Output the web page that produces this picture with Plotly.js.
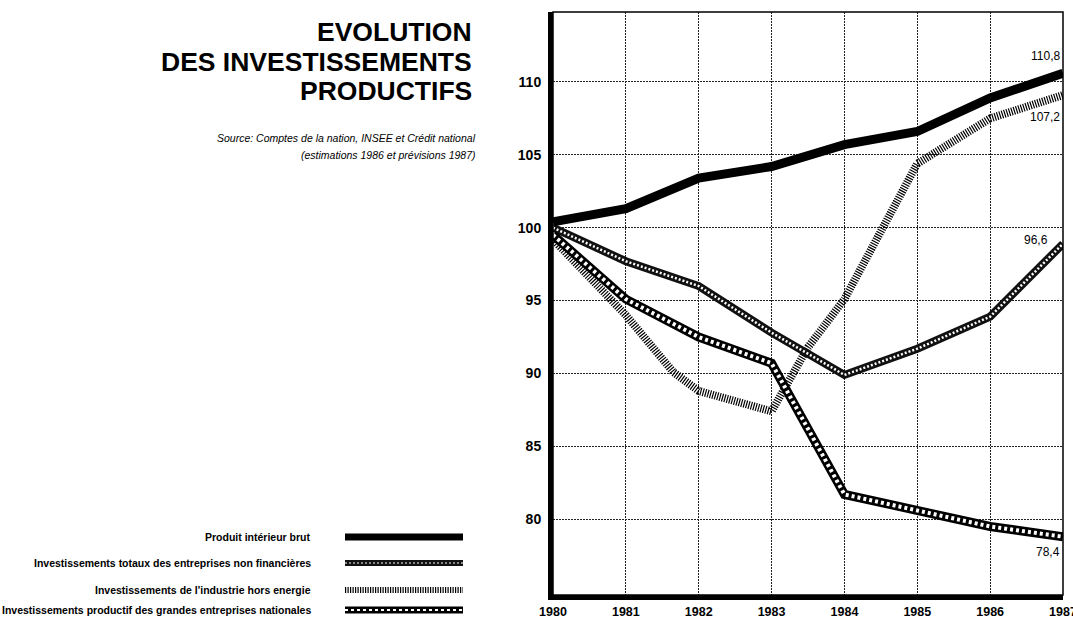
<!DOCTYPE html>
<html>
<head>
<meta charset="utf-8">
<script src="https://cdn.plot.ly/plotly-3.0.1.min.js"></script>
<style>
  html, body { margin: 0; padding: 0; background: #fff; }
  #chart { width: 1073px; height: 621px; }
</style>
</head>
<body>
<div id="chart"></div>
<script>
// ---- Data ----
const years = [1980, 1981, 1982, 1983, 1984, 1985, 1986, 1987];
const pib = [100.4, 101.3, 103.4, 104.2, 105.7, 106.6, 108.9, 110.6];
const totauxYears = [1980, 1981, 1982, 1983, 1984, 1985, 1986, 1987];
const totaux = [100.0, 97.7, 96.0, 92.8, 89.9, 91.7, 93.9, 98.9];
const industrieYears = [1980, 1981, 1981.65, 1982, 1983, 1983.5, 1984, 1985, 1986, 1987];
const industrie = [99.2, 94.0, 90.1, 88.8, 87.4, 91.8, 95.1, 104.4, 107.5, 109.1];
const grandesYears = [1980, 1981, 1982, 1983, 1984, 1985, 1986, 1987];
const grandes = [99.5, 95.1, 92.5, 90.7, 81.7, 80.6, 79.5, 78.8];

const seriesNames = [
  "Produit intérieur brut",
  "Investissements totaux des entreprises non financières",
  "Investissements de l'industrie hors energie",
  "Investissements productif des grandes entreprises nationales"
];
const endLabels = ["110,8", "96,6", "107,2", "78,4"];
const yTicks = [80, 85, 90, 95, 100, 105, 110];
const titleLines = ["EVOLUTION", "DES INVESTISSEMENTS", "PRODUCTIFS"];
const sourceLines = ["Source: Comptes de la nation, INSEE et Crédit national",
                     "(estimations 1986 et prévisions 1987)"];

// ---- Styles (patterns emulated with stacked line layers) ----
const styles = [
  [{color: "#000", width: 9}],
  [{color: "#111", width: 8}, {color: "#fff", width: 2.5, dash: "2px,2px"}],
  [{color: "#000", width: 8, dash: "1.2px,1.3px"}],
  [{color: "#000", width: 9}, {color: "#fff", width: 4, dash: "3px,3px"}]
];
const seriesX = [years, totauxYears, industrieYears, grandesYears];
const seriesY = [pib, totaux, industrie, grandes];

const drawOrder = [2, 1, 3, 0];
const traces = [];
drawOrder.forEach(i => {
  styles[i].forEach(st => {
    traces.push({
      x: seriesX[i], y: seriesY[i], type: "scatter", mode: "lines",
      name: seriesNames[i], showlegend: false, hoverinfo: "skip",
      line: {color: st.color, width: st.width, dash: st.dash || "solid", shape: "linear"}
    });
  });
});

// ---- Layout helpers (pixel -> paper) ----
const W = 1073, H = 621, ML = 553, MR = 10, MT = 12, MB = 26;
const PW = W - ML - MR, PH = H - MT - MB;
const px = x => (x - ML) / PW;
const py = y => (H - MB - y) / PH;
const FONT = "Liberation Sans, Arial, sans-serif";

const annotations = [];
const titleY = [32, 62, 91];
titleLines.forEach((t, k) => annotations.push({
  xref: "paper", yref: "paper", x: px(474), y: py(titleY[k]), xanchor: "right", yanchor: "middle",
  text: t, showarrow: false,
  font: {family: FONT, size: 26.5, color: "#000", weight: "bold"}
}));
const srcY = [138, 155];
sourceLines.forEach((t, k) => annotations.push({
  xref: "paper", yref: "paper", x: px(478), y: py(srcY[k]), xanchor: "right", yanchor: "middle",
  text: t, showarrow: false,
  font: {family: FONT, size: 10.5, color: "#000", style: "italic"}
}));

// end-of-line value labels
const endShift = [[-1, 17], [-13, 4], [-1, -22], [-1, -15]];
[0, 1, 2, 3].forEach(i => {
  const xs = seriesX[i], ys = seriesY[i];
  annotations.push({
    xref: "x", yref: "y", x: xs[xs.length - 1], y: ys[ys.length - 1],
    xanchor: "right", yanchor: "middle", xshift: endShift[i][0], yshift: endShift[i][1],
    text: endLabels[i], showarrow: false,
    font: {family: FONT, size: 12, color: "#000"}
  });
});

// legend (text right-aligned, swatch to the right)
const legY = [537, 563, 590, 610];
const shapes = [];
seriesNames.forEach((n, i) => {
  annotations.push({
    xref: "paper", yref: "paper", x: px(313), y: py(legY[i]), xanchor: "right", yanchor: "middle",
    text: n, showarrow: false,
    font: {family: FONT, size: 10.5, color: "#000", weight: "bold"}
  });
  styles[i].forEach(st => {
    shapes.push({
      type: "line", xref: "paper", yref: "paper",
      x0: px(345), x1: px(463), y0: py(legY[i]), y1: py(legY[i]),
      line: {color: st.color, width: Math.max(1, st.width - 2), dash: st.dash || "solid"}
    });
  });
});
// thin frame for top/right
shapes.push({type: "rect", xref: "paper", yref: "paper", x0: 0, x1: 1, y0: 0, y1: 1,
  line: {color: "#000", width: 1.5}, layer: "above"});

const layout = {
  width: W, height: H,
  margin: {l: ML, r: MR, t: MT, b: MB, pad: 0},
  paper_bgcolor: "#fff", plot_bgcolor: "#fff",
  showlegend: false,
  xaxis: {
    range: [1980, 1987], tickvals: years, ticktext: years.map(String),
    showgrid: true, gridcolor: "#222", gridwidth: 1, griddash: "2px,1px",
    showline: true, linecolor: "#000", linewidth: 5,
    ticks: "outside", ticklen: 1, tickcolor: "rgba(0,0,0,0)",
    ticklabeloverflow: "allow",
    zeroline: false, automargin: false,
    tickfont: {family: FONT, size: 12.5, color: "#000", weight: "bold"}
  },
  yaxis: {
    range: [74.8, 114.8], tickvals: yTicks,
    showgrid: true, gridcolor: "#222", gridwidth: 1, griddash: "2px,1px",
    showline: true, linecolor: "#000", linewidth: 5,
    ticks: "outside", ticklen: 4, tickcolor: "rgba(0,0,0,0)",
    zeroline: false, automargin: false,
    tickfont: {family: FONT, size: 14, color: "#000", weight: "bold"}
  },
  annotations: annotations,
  shapes: shapes
};

Plotly.newPlot("chart", traces, layout, {staticPlot: true, displayModeBar: false});
</script>
</body>
</html>
